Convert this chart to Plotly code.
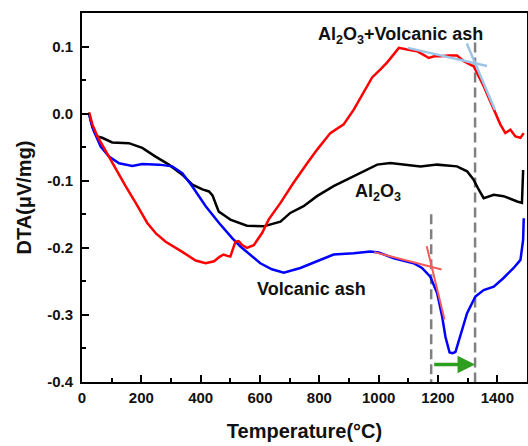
import plotly.graph_objects as go

# ---- data ----
mix_T = [24, 35, 52, 75, 96, 120, 147, 181, 220, 250, 282, 338, 383, 417, 445, 465, 477, 490, 500, 510, 517, 528, 540, 556, 579, 607, 629, 669, 713, 759, 792, 837, 882, 916, 949, 978, 1006, 1028, 1050, 1068, 1096, 1129, 1150, 1169, 1190, 1208, 1236, 1264, 1287, 1320, 1354, 1393, 1410, 1427, 1444, 1461, 1478, 1489]
mix_DTA = [0.002, -0.016, -0.034, -0.052, -0.069, -0.088, -0.108, -0.133, -0.163, -0.179, -0.191, -0.206, -0.219, -0.223, -0.220, -0.213, -0.210, -0.212, -0.213, -0.200, -0.191, -0.190, -0.196, -0.200, -0.196, -0.178, -0.158, -0.133, -0.103, -0.074, -0.054, -0.029, -0.016, 0.006, 0.031, 0.054, 0.066, 0.076, 0.088, 0.098, 0.0955, 0.093, 0.088, 0.083, 0.086, 0.0855, 0.0866, 0.0866, 0.078, 0.0706, 0.041, 0.001, -0.016, -0.029, -0.024, -0.034, -0.036, -0.029]

al2o3_T = [24, 35, 45, 52, 68, 102, 158, 203, 248, 293, 338, 372, 406, 428, 440, 461, 484, 500, 556, 612, 669, 702, 747, 792, 848, 905, 961, 995, 1039, 1096, 1141, 1197, 1264, 1298, 1320, 1337, 1354, 1388, 1421, 1467, 1483, 1487]
al2o3_DTA = [0.0, -0.02, -0.030, -0.034, -0.036, -0.043, -0.044, -0.051, -0.064, -0.076, -0.091, -0.106, -0.113, -0.116, -0.122, -0.146, -0.153, -0.158, -0.167, -0.168, -0.161, -0.148, -0.138, -0.123, -0.108, -0.096, -0.084, -0.076, -0.0736, -0.076, -0.0786, -0.076, -0.0786, -0.086, -0.0985, -0.113, -0.126, -0.121, -0.123, -0.131, -0.133, -0.084]

ash_T = [24, 30, 40, 63, 91, 125, 170, 203, 260, 304, 338, 372, 417, 462, 507, 534, 601, 640, 680, 736, 792, 848, 916, 972, 1000, 1051, 1118, 1146, 1174, 1197, 1214, 1225, 1239, 1250, 1259, 1275, 1298, 1326, 1354, 1388, 1421, 1455, 1478, 1487, 1489]
ash_DTA = [0.0, -0.012, -0.026, -0.049, -0.064, -0.074, -0.078, -0.075, -0.076, -0.0786, -0.0886, -0.1085, -0.138, -0.163, -0.186, -0.198, -0.223, -0.232, -0.237, -0.230, -0.220, -0.210, -0.208, -0.2055, -0.207, -0.2155, -0.223, -0.230, -0.243, -0.2675, -0.3025, -0.3325, -0.356, -0.357, -0.355, -0.3325, -0.2975, -0.2725, -0.263, -0.258, -0.245, -0.230, -0.218, -0.188, -0.156]

# tangent lines (pairs of end points)
mix_tangents_T = [[1098, 1365], [1297, 1392]]
mix_tangents_DTA = [[0.098, 0.071], [0.1045, 0.0055]]
ash_tangents_T = [[985, 1212], [1162, 1222]]
ash_tangents_DTA = [[-0.2064, -0.2324], [-0.1975, -0.307]]

# onset markers
onset_T = [1177, 1325]
onset_top = [-0.15, 0.106]
arrow_DTA = -0.374

x_ticks = [0, 200, 400, 600, 800, 1000, 1200, 1400]
y_ticks = [-0.4, -0.3, -0.2, -0.1, 0.0, 0.1]

FONT = "Arial, Liberation Sans, sans-serif"

fig = go.Figure()

# dashed onset lines
for t, top in zip(onset_T, onset_top):
    fig.add_trace(go.Scatter(x=[t, t], y=[top, -0.4], mode="lines",
                             line=dict(color="#808080", width=2.5, dash="10px,5px"),
                             hoverinfo="skip", showlegend=False))

fig.add_trace(go.Scatter(x=al2o3_T, y=al2o3_DTA, mode="lines",
                         line=dict(color="black", width=2.5), showlegend=False))
fig.add_trace(go.Scatter(x=ash_T, y=ash_DTA, mode="lines",
                         line=dict(color="#0000ff", width=2.5), showlegend=False))
fig.add_trace(go.Scatter(x=mix_T, y=mix_DTA, mode="lines",
                         line=dict(color="#ff0000", width=2.5), showlegend=False))

for tx, ty in zip(mix_tangents_T, mix_tangents_DTA):
    fig.add_trace(go.Scatter(x=tx, y=ty, mode="lines",
                             line=dict(color="#9dc3e6", width=2.5), showlegend=False))
for tx, ty in zip(ash_tangents_T, ash_tangents_DTA):
    fig.add_trace(go.Scatter(x=tx, y=ty, mode="lines",
                             line=dict(color="#f45b5b", width=2), showlegend=False))

# green arrow
fig.add_annotation(x=onset_T[1], y=arrow_DTA, ax=onset_T[0] + 5, ay=arrow_DTA,
                   xref="x", yref="y", axref="x", ayref="y", text="",
                   showarrow=True, arrowhead=2, arrowsize=1, arrowwidth=3.5,
                   arrowcolor="#2e9e1f")

# labels
lab_font = dict(family=FONT, size=18, color="#111111")
fig.add_annotation(x=1073, y=0.1165, xref="x", yref="y",
                   text="<b>Al<sub>2</sub>O<sub>3</sub>+Volcanic ash</b>",
                   showarrow=False, font=lab_font)
fig.add_annotation(x=999, y=-0.1175, xref="x", yref="y",
                   text="<b>Al<sub>2</sub>O<sub>3</sub></b>",
                   showarrow=False, font=lab_font)
fig.add_annotation(x=775, y=-0.261, xref="x", yref="y",
                   text="<b>Volcanic ash</b>",
                   showarrow=False, font=lab_font)

axis_common = dict(showline=True, linecolor="black", linewidth=1.8, mirror=True,
                   ticks="inside", ticklen=7, tickwidth=1.5, tickcolor="black",
                   showgrid=False, zeroline=False, automargin=False,
                   tickfont=dict(family=FONT, size=15, color="#111111"))

fig.update_xaxes(range=[0, 1500], tickvals=x_ticks, ticktext=[f"<b>{v}</b>" for v in x_ticks],
                 minor=dict(dtick=100, ticks="inside", ticklen=4, tickwidth=1.5, tickcolor="black"),
                 ticklabelstandoff=1,
                 title=dict(text="<b>Temperature(°C)</b>", font=dict(family=FONT, size=20, color="#111111"), standoff=19),
                 **axis_common)
fig.update_yaxes(range=[-0.4, 0.15], tickvals=y_ticks, ticktext=[f"<b>{v:.1f}</b>" for v in y_ticks],
                 minor=dict(dtick=0.05, ticks="inside", ticklen=4, tickwidth=1.5, tickcolor="black"),
                 ticklabelstandoff=4,
                 title=dict(text="<b>DTA(μV/mg)</b>", font=dict(family=FONT, size=20, color="#111111"), standoff=10),
                 **axis_common)

fig.update_layout(width=528, height=446, margin=dict(l=82, r=1, t=13, b=64),
                  paper_bgcolor="white", plot_bgcolor="white", showlegend=False)

fig.write_html("out.html", config={"displayModeBar": False},
               post_script="document.body.style.margin='0px';document.body.style.overflow='hidden';")
